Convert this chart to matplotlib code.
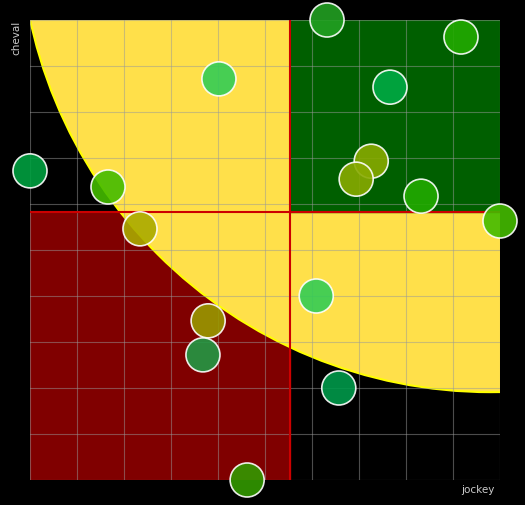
import numpy as np
import matplotlib.pyplot as plt
from matplotlib.patches import Rectangle, Ellipse

# data
jockey = [6.32, 9.17, 4.02, 7.66, 0.0, 1.66, 7.26, 6.94, 8.32, 10.0, 2.34, 6.09, 3.79, 3.68, 6.57, 4.62]
cheval = [10.0, 9.63, 8.72, 8.54, 6.72, 6.37, 6.93, 6.54, 6.17, 5.63, 5.46, 4.0, 3.46, 2.72, 2.0, 0.0]
colors = ['#22a022', '#22aa00', '#33cc55', '#00aa44', '#00a040', '#44bb00', '#88aa00', '#88aa00',
          '#22aa00', '#44bb00', '#aaaa00', '#33cc55', '#999900', '#229944', '#00994a', '#339900']
x_mid = 5.53
y_mid = 5.83
# circular arc (in pixels) expressed in data units
arc_cx, arc_cy = 9.80, 12.15
arc_rx, arc_ry = 10.02, 10.24

fig = plt.figure(figsize=(5.25, 5.05), dpi=100, facecolor='black')
ax = fig.add_axes([30/525, 25/505, 470/525, 460/505])
ax.set_facecolor('black')
ax.set_xlim(0, 10)
ax.set_ylim(0, 10)

ax.add_patch(Rectangle((0, 0), x_mid, y_mid, color='#800000', zorder=1))
ax.add_patch(Ellipse((arc_cx, arc_cy), 2*arc_rx, 2*arc_ry, facecolor='#ffe04a', edgecolor='yellow', lw=1.5, zorder=2))
ax.add_patch(Rectangle((x_mid, y_mid), 10-x_mid, 10-y_mid, color='#005f00', zorder=3))

for v in range(11):
    ax.axvline(v, color='#999999', lw=0.8, alpha=0.5, zorder=4)
    ax.axhline(v, color='#999999', lw=0.8, alpha=0.5, zorder=4)
ax.axvline(x_mid, color='#cc0000', lw=1.5, zorder=5)
ax.axhline(y_mid, color='#cc0000', lw=1.5, zorder=5)

ax.scatter(jockey, cheval, s=600, c=colors, edgecolors='white', linewidths=1.2, alpha=0.9, zorder=6, clip_on=False)

for s in ax.spines.values():
    s.set_visible(False)
ax.set_xticks([])
ax.set_yticks([])
fig.text(495/525, 1-490/505, 'jockey', color='#cccccc', fontsize=7.5, ha='right', va='center')
fig.text(16/525, 1-38/505, 'cheval', color='#cccccc', fontsize=7.5, rotation=90, ha='center', va='center')

fig.savefig('out.png', dpi=100, facecolor='black')
